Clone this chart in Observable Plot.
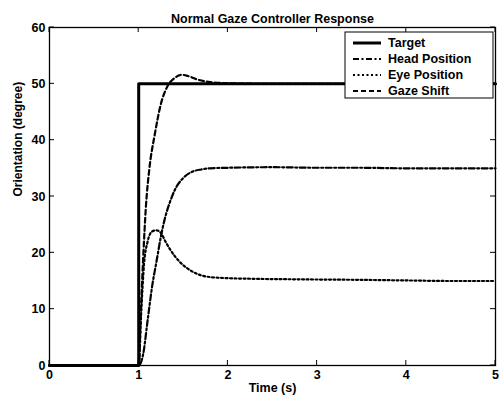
<!DOCTYPE html>
<html>
<head>
<meta charset="utf-8">
<script src="https://cdn.jsdelivr.net/npm/d3@7"></script>
<script src="https://cdn.jsdelivr.net/npm/@observablehq/plot@0.6"></script>
<style>
  html, body { margin: 0; padding: 0; background: #fff; }
  #chart { position: relative; width: 499px; height: 412px; }
  svg { font-family: "Liberation Sans", Arial, sans-serif; font-weight: bold; }
</style>
</head>
<body>
<div id="chart"></div>
<script>
const title = "Normal Gaze Controller Response";
const xLabel = "Time (s)";
const yLabel = "Orientation (degree)";
const xTicks = [0, 1, 2, 3, 4, 5];
const yTicks = [0, 10, 20, 30, 40, 50, 60];
const seriesNames = ["Target", "Head Position", "Eye Position", "Gaze Shift"];

const targetT = [0, 1, 1, 5];
const targetV = [0, 0, 50, 50];

const headT = [0, 1.0, 1.05, 1.1, 1.15, 1.2, 1.25, 1.3, 1.35, 1.4, 1.5, 1.6, 1.7, 1.8, 2.0, 2.5, 3.0, 3.5, 4.0, 4.5, 5.0];
const headV = [0, 0, 2, 8, 14, 18.5, 23, 26.5, 29, 31, 33.3, 34.4, 34.8, 35, 35.1, 35.2, 35.1, 35.1, 35, 35, 35];

const eyeT = [0, 1.0, 1.03, 1.06, 1.1, 1.15, 1.2, 1.25, 1.3, 1.4, 1.5, 1.6, 1.7, 1.8, 2.0, 2.25, 2.75, 3.5, 4.0, 4.5, 5.0];
const eyeV = [0, 0, 10, 18, 22, 23.8, 24, 23.5, 22, 19.5, 17.8, 16.7, 16, 15.7, 15.5, 15.4, 15.3, 15.2, 15.1, 15, 15];

const gazeT = [0, 1.0, 1.02, 1.05, 1.08, 1.12, 1.18, 1.25, 1.32, 1.4, 1.48, 1.55, 1.65, 1.8, 2.0, 2.5, 3.0, 4.0, 5.0];
const gazeV = [0, 0, 8, 19, 28, 35, 41, 46.5, 49.5, 51, 51.6, 51.4, 50.8, 50.3, 50.1, 50, 50, 50, 50];

const rows = (T, V) => T.map((t, i) => ({t, v: V[i]}));
const target = rows(targetT, targetV);
const head = rows(headT, headV);
const eye = rows(eyeT, eyeV);
const gaze = rows(gazeT, gazeV);

const styles = {
  "Target": {strokeWidth: 3, dash: null},
  "Head Position": {strokeWidth: 2.2, dash: "6,2.5,2,2.5"},
  "Eye Position": {strokeWidth: 2.2, dash: "2,2.5"},
  "Gaze Shift": {strokeWidth: 2.2, dash: "5,3"}
};

const lineOpts = (name, curve) => ({
  x: "t", y: "v", stroke: "black", strokeWidth: styles[name].strokeWidth,
  strokeDasharray: styles[name].dash, curve
});

const plot = Plot.plot({
  width: 499,
  height: 412,
  marginLeft: 49,
  marginRight: 4,
  marginTop: 27,
  marginBottom: 47,
  style: {fontFamily: "'Liberation Sans', Arial, sans-serif", fontWeight: "bold", fontSize: "12.5px", color: "black", background: "white"},
  x: {domain: [0, 5]},
  y: {domain: [0, 60]},
  marks: [
    Plot.line(eye, lineOpts("Eye Position", "monotone-x")),
    Plot.line(head, lineOpts("Head Position", "monotone-x")),
    Plot.line(gaze, lineOpts("Gaze Shift", "monotone-x")),
    Plot.line(target, lineOpts("Target", "linear")),
    Plot.frame({stroke: "black", strokeWidth: 1.3}),
    Plot.axisX({ticks: xTicks, tickSize: 0, tickPadding: 5, tickFormat: d => d, label: null, fontSize: 12.5, fontWeight: "bold"}),
    Plot.axisY({ticks: yTicks, tickSize: 0, tickPadding: 4, tickFormat: d => d, label: null, fontSize: 12.5, fontWeight: "bold"}),
    Plot.text([title], {frameAnchor: "top", dy: -13, fontSize: 12.5, fontWeight: "bold", fill: "black"}),
    Plot.text([xLabel], {frameAnchor: "bottom", dy: 26, fontSize: 12.5, fontWeight: "bold", fill: "black"}),
    Plot.text([yLabel], {frameAnchor: "left", dx: -31, rotate: -90, fontSize: 12, fontWeight: "bold", fill: "black"})
  ]
});

document.getElementById("chart").appendChild(plot);

const svg = d3.select(plot);
const sx = plot.scale("x"), sy = plot.scale("y");
const [x0, x1] = sx.range, [y0, y1] = sy.range;
const tk = 5;
const ticksG = svg.append("g").attr("stroke", "black").attr("stroke-width", 1);
xTicks.forEach(t => {
  const px = sx.apply(t);
  ticksG.append("line").attr("x1", px).attr("x2", px).attr("y1", y0).attr("y2", y0 - tk);
  ticksG.append("line").attr("x1", px).attr("x2", px).attr("y1", y1).attr("y2", y1 + tk);
});
yTicks.forEach(v => {
  const py = sy.apply(v);
  ticksG.append("line").attr("x1", x0).attr("x2", x0 + tk).attr("y1", py).attr("y2", py);
  ticksG.append("line").attr("x1", x1).attr("x2", x1 - tk).attr("y1", py).attr("y2", py);
});

// Legend box (upper right, inside the plot)
const lg = svg.append("g").attr("class", "legend").attr("text-anchor", "start");
const box = {x: 345, y: 32, w: 148, h: 66};
lg.append("rect").attr("x", box.x).attr("y", box.y).attr("width", box.w).attr("height", box.h)
  .attr("fill", "white").attr("stroke", "black").attr("stroke-width", 1);
seriesNames.forEach((name, i) => {
  const yy = 43 + i * 16;
  lg.append("line").attr("x1", 353).attr("x2", 381).attr("y1", yy).attr("y2", yy)
    .attr("stroke", "black").attr("stroke-width", styles[name].strokeWidth)
    .attr("stroke-dasharray", styles[name].dash);
  lg.append("text").attr("x", 388).attr("y", yy).attr("dy", "0.35em")
    .attr("text-anchor", "start")
    .attr("font-size", 12.5).attr("font-weight", "bold").attr("fill", "black").text(name);
});
</script>
</body>
</html>
